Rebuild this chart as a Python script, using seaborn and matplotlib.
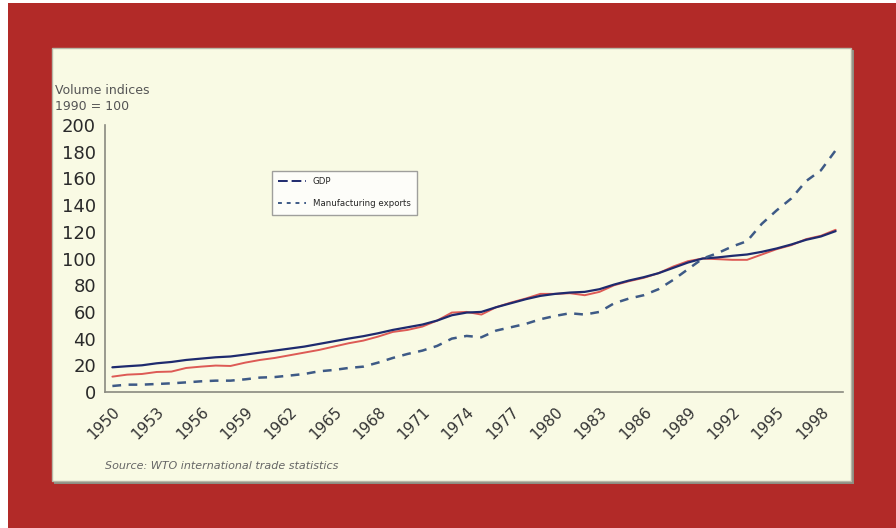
import numpy as np
import pandas as pd
import matplotlib
matplotlib.use("Agg")
import matplotlib.pyplot as plt
from matplotlib.patches import Rectangle
from matplotlib.lines import Line2D
import seaborn as sns

# World output and trade volume indices, 1990 = 100
years = list(range(1950, 2000))

gdp = [18.5, 19.3, 20.0, 21.5, 22.5, 24.0, 25.0, 26.0, 26.6, 28.0,
       29.5, 31.0, 32.5, 34.0, 36.0, 38.0, 40.0, 41.8, 44.0, 46.5,
       48.5, 50.5, 53.5, 57.5, 59.5, 60.0, 63.5, 66.5, 69.5, 72.0,
       73.5, 74.5, 75.0, 77.0, 80.5, 83.5, 86.0, 89.0, 93.0, 97.0,
       100.0, 100.8, 102.0, 103.0, 105.0, 107.5, 110.5, 114.0, 116.5, 120.5]

manuf_production = [11.5, 13.0, 13.5, 15.0, 15.3, 18.0, 19.0, 19.8, 19.5, 22.0,
                    24.0, 25.5, 27.5, 29.5, 31.5, 34.0, 36.5, 38.5, 41.5, 45.0,
                    46.5, 49.0, 53.5, 59.5, 60.0, 58.0, 63.5, 67.0, 70.0, 73.5,
                    73.5, 74.0, 72.5, 75.0, 80.0, 83.0, 85.5, 89.0, 94.0, 98.0,
                    100.0, 99.5, 99.0, 99.0, 103.0, 107.0, 110.0, 114.5, 117.0, 121.5]

manuf_exports = [4.5, 5.5, 5.5, 6.0, 6.5, 7.2, 8.0, 8.5, 8.5, 9.5,
                 10.8, 11.2, 12.3, 13.5, 15.5, 16.5, 18.0, 19.0, 22.0, 25.5,
                 28.5, 31.0, 34.5, 40.0, 42.0, 41.0, 46.0, 48.5, 51.0, 54.5,
                 57.0, 59.0, 58.0, 60.0, 66.5, 70.0, 72.5, 77.0, 84.0, 92.0,
                 100.0, 104.0, 109.0, 113.0, 126.0, 136.0, 145.0, 158.0, 166.0, 181.0]

tick_years = list(range(1950, 1999, 3))
y_ticks = list(range(0, 201, 20))

df = pd.DataFrame({"year": years, "gdp": gdp,
                   "production": manuf_production, "exports": manuf_exports})

RED = "#B22A28"
CREAM = "#F9FAE4"
NAVY = "#1E2A6E"
SALMON = "#DD5A55"
SLATE = "#3E5A86"

sns.set_style("white")
plt.rcParams["font.family"] = ["DejaVu Sans"]

W, H = 896, 528
fig = plt.figure(figsize=(W / 100, H / 100), dpi=100, facecolor="white")

def px_rect(x0, y0, x1, y1, **kw):
    """Rectangle given in pixel coordinates measured from the top-left."""
    return Rectangle((x0 / W, 1 - y1 / H), (x1 - x0) / W, (y1 - y0) / H,
                     transform=fig.transFigure, **kw)

# Red frame and the cream chart panel with a soft grey shadow
fig.patches.append(px_rect(8, 3, 896, 528, facecolor=RED, edgecolor="none", zorder=0))
fig.patches.append(px_rect(54, 50, 854, 484, facecolor="#8E8E82", edgecolor="none", zorder=1))
fig.patches.append(px_rect(52, 48, 851, 481, facecolor=CREAM, edgecolor="#B8B8A8",
                           linewidth=1.0, zorder=2))

ax = fig.add_axes([105 / W, 1 - 392 / H, (843 - 105) / W, (392 - 125) / H], zorder=3)
ax.set_facecolor("none")

sns.lineplot(data=df, x="year", y="production", ax=ax, color=SALMON, linewidth=1.4,
             label="_nolegend_")
sns.lineplot(data=df, x="year", y="gdp", ax=ax, color=NAVY, linewidth=1.6,
             label="GDP")
sns.lineplot(data=df, x="year", y="exports", ax=ax, color=SLATE, linewidth=1.8,
             label="Manufacturing exports")
ax.lines[2].set_dashes([3.5, 3.0])

ax.set_xlim(1949.5, 1999.5)
ax.set_ylim(0, 200)
ax.set_xticks(tick_years)
ax.set_xticklabels([str(y) for y in tick_years], rotation=45, ha="right",
                   rotation_mode="anchor", fontsize=11, color="#333333")
ax.set_yticks(y_ticks)
ax.set_yticklabels([str(v) for v in y_ticks], fontsize=13, color="#2A2A2A")
ax.tick_params(axis="x", length=0, pad=9)
ax.tick_params(axis="y", length=3, direction="inout", color="#777777", pad=5)
ax.set_xlabel("")
ax.set_ylabel("")
for side in ("top", "right"):
    ax.spines[side].set_visible(False)
for side in ("left", "bottom"):
    ax.spines[side].set_color("#8A8A80")
    ax.spines[side].set_linewidth(1.2)

# Legend: long-dash swatch for GDP, short dashes for exports
handles = [Line2D([], [], color=NAVY, linewidth=1.4, dashes=[5, 2]),
           Line2D([], [], color=SLATE, linewidth=1.4, dashes=[2, 2.5])]
leg = ax.legend(handles, ["GDP", "Manufacturing exports"], loc="upper left",
                bbox_to_anchor=(0.221, 0.845), fontsize=6.2, frameon=True,
                fancybox=False, edgecolor="#888888", handlelength=3.2,
                labelspacing=1.6, borderpad=0.7, handletextpad=0.8)
leg.get_frame().set_facecolor("white")
leg.get_frame().set_linewidth(1.0)

fig.text(55 / W, 1 - 90 / H, "Volume indices", fontsize=9, color="#555555",
         ha="left", va="center")
fig.text(55 / W, 1 - 107 / H, "1990 = 100", fontsize=9, color="#555555",
         ha="left", va="center")
fig.text(105 / W, 1 - 466 / H, "Source: WTO international trade statistics",
         fontsize=8, style="italic", color="#666666", ha="left", va="center")

fig.savefig("out.png", dpi=100, facecolor="white")
